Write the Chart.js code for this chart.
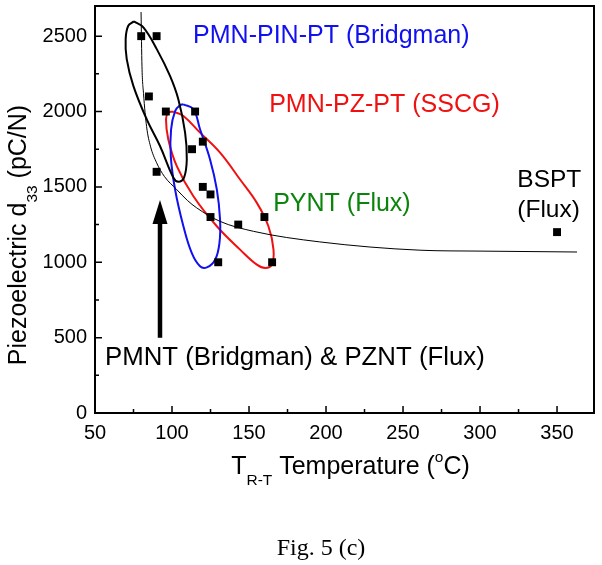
<!DOCTYPE html>
<html><head><meta charset="utf-8">
<script src="https://cdn.jsdelivr.net/npm/chart.js@4/dist/chart.umd.min.js"></script>
<style>html,body{margin:0;padding:0;background:#fff}#wrap{width:602px;height:565px;position:relative}</style>
</head><body><div id="wrap"><canvas id="c" width="602" height="565"></canvas></div>
<script>
// ---- tick values ----
const xTicks = [50, 100, 150, 200, 250, 300, 350];
const xMinor = [75, 125, 175, 225, 275, 325];
const yTicks = [0, 500, 1000, 1500, 2000, 2500];
const yMinor = [250, 750, 1250, 1750, 2250];

// ---- measured points (T_R-T, d33) ----
const ptX = [80, 90, 85, 96, 115, 113, 120, 90, 120, 125, 125, 143, 160, 130, 165, 350];
const ptY = [2500, 2500, 2100, 2000, 2000, 1750, 1800, 1600, 1500, 1450, 1300, 1250, 1300, 1000, 1000, 1200];

// ---- guide curve ----
const fitX = [79.9, 80.5, 81.5, 83.5, 86, 90, 95, 103, 110, 116, 131, 153, 196, 261, 300, 363];
const fitY = [2660, 2300, 2120, 1900, 1770, 1660, 1570, 1483, 1410, 1361, 1272, 1205, 1135, 1080, 1074, 1068];

// ---- group outlines ----
const blackX = [75.3, 81.4, 90.1, 98.7, 104.1, 108.5, 109.6, 107.8, 104.1, 100.9, 92.2, 83.6, 74.9, 70.6, 69.9, 71.6, 75.3];
const blackY = [2598, 2558, 2414, 2236, 2081, 1860, 1682, 1561, 1534, 1561, 1771, 1948, 2170, 2347, 2480, 2569, 2598];
const blueX = [107.4, 113.9, 118.2, 124.7, 129.1, 131.2, 130.8, 128.0, 122.6, 118.2, 112.8, 107.4, 102.0, 99.2, 99.4, 102.0, 105.2, 107.4];
const blueY = [2048, 2015, 1882, 1682, 1483, 1283, 1128, 1017, 966, 973, 1062, 1239, 1483, 1704, 1882, 2003, 2041, 2048];
const redX = [100.9, 107.4, 118.2, 131.2, 144.2, 155.1, 162.6, 165.9, 164.8, 160.5, 155.1, 144.2, 129.1, 113.9, 103.1, 97.6, 96.1, 97.6, 100.9];
const redY = [1999, 1970, 1860, 1727, 1549, 1394, 1239, 1084, 984, 962, 984, 1084, 1239, 1438, 1638, 1815, 1948, 1993, 1999];

// ---- annotation texts ----
const labelTexts = ["PMN-PIN-PT (Bridgman)", "PMN-PZ-PT (SSCG)", "PYNT (Flux)", "BSPT", "(Flux)", "PMNT (Bridgman) & PZNT (Flux)"];
const labelAnchorX = [113.7, 163.1, 165.7, 324.2, 324.2, 56.5];
const labelAnchorY = [2453, 1995, 1343, 1496, 1297, 319];
const arrowX = [92.2, 92.2];
const arrowY = [499, 1413];

const labelStyle = [
  {c: '#1010f0', s: 25}, {c: '#f01010', s: 25}, {c: '#0b840b', s: 25},
  {c: '#000', s: 24.5}, {c: '#000', s: 24.5}, {c: '#000', s: 25.8}
];

const zip = (xs, ys) => xs.map((v, i) => ({x: v, y: ys[i]}));
const FONT = '"Liberation Sans", Arial, sans-serif';

function drawRich(ctx, parts, x, y, size, align) {
  const w = parts.map(p => { ctx.font = ((p.sub || p.sup) ? size * 0.62 : size) + 'px ' + FONT; return ctx.measureText(p.t).width; });
  const total = w.reduce((a, b) => a + b, 0);
  let cx = align === 'center' ? x - total / 2 : x;
  parts.forEach((p, i) => {
    ctx.font = ((p.sub || p.sup) ? size * 0.62 : size) + 'px ' + FONT;
    const dy = p.sub ? size * 0.45 : p.sup ? -size * 0.5 : 0;
    ctx.fillText(p.t, cx, y + dy);
    cx += w[i];
  });
}

const deco = {
  id: 'deco',
  afterDraw(chart) {
    const {ctx, chartArea: a, scales: {x, y}} = chart;
    ctx.save();
    // inward ticks
    ctx.strokeStyle = '#000'; ctx.lineWidth = 1.5;
    ctx.beginPath();
    xTicks.forEach(v => { const p = x.getPixelForValue(v); ctx.moveTo(p, a.bottom); ctx.lineTo(p, a.bottom - 7); });
    xMinor.forEach(v => { const p = x.getPixelForValue(v); ctx.moveTo(p, a.bottom); ctx.lineTo(p, a.bottom - 4); });
    yTicks.forEach(v => { const p = y.getPixelForValue(v); ctx.moveTo(a.left, p); ctx.lineTo(a.left + 7, p); });
    yMinor.forEach(v => { const p = y.getPixelForValue(v); ctx.moveTo(a.left, p); ctx.lineTo(a.left + 4, p); });
    ctx.stroke();
    // frame
    ctx.lineWidth = 2;
    ctx.strokeRect(a.left, a.top, a.right - a.left, a.bottom - a.top);
    // arrow
    const ax = x.getPixelForValue(arrowX[0]);
    const y0 = y.getPixelForValue(arrowY[0]);
    const y1 = y.getPixelForValue(arrowY[1]);
    ctx.lineWidth = 4.5;
    ctx.beginPath(); ctx.moveTo(ax, y0); ctx.lineTo(ax, y1 + 20); ctx.stroke();
    ctx.fillStyle = '#000';
    ctx.beginPath(); ctx.moveTo(ax, y1); ctx.lineTo(ax - 7.5, y1 + 24); ctx.lineTo(ax + 7.5, y1 + 24); ctx.closePath(); ctx.fill();
    // labels
    ctx.textBaseline = 'alphabetic'; ctx.textAlign = 'left';
    labelTexts.forEach((t, i) => {
      ctx.fillStyle = labelStyle[i].c;
      ctx.font = labelStyle[i].s + 'px ' + FONT;
      ctx.fillText(t, x.getPixelForValue(labelAnchorX[i]), y.getPixelForValue(labelAnchorY[i]));
    });
    // axis titles
    ctx.fillStyle = '#000';
    drawRich(ctx, [{t: 'T'}, {t: 'R-T', sub: true}, {t: ' Temperature ('}, {t: 'o', sup: true}, {t: 'C)'}],
      (a.left + a.right) / 2 + 6, 474, 25, 'center');
    ctx.save();
    ctx.translate(26, 235);
    ctx.rotate(-Math.PI / 2);
    drawRich(ctx, [{t: 'Piezoelectric d'}, {t: '33', sub: true}, {t: ' (pC/N)'}], 0, 0, 25, 'center');
    ctx.restore();
    // caption
    ctx.font = '24px "Liberation Serif", "Times New Roman", serif';
    ctx.textAlign = 'center';
    ctx.fillText('Fig. 5 (c)', 321, 555);
    ctx.restore();
  }
};

const lineDs = (xs, ys, color, width, tension) => ({
  type: 'line', data: zip(xs, ys), borderColor: color, borderWidth: width,
  pointRadius: 0, fill: false, tension: tension, showLine: true, order: 2
});

new Chart(document.getElementById('c'), {
  type: 'scatter',
  data: {
    datasets: [
      {data: zip(ptX, ptY), pointStyle: 'rect', pointRadius: 5.6, backgroundColor: '#000', borderColor: '#000', borderWidth: 0, order: 1},
      Object.assign(lineDs(fitX, fitY, '#000', 1, 0), {cubicInterpolationMode: 'monotone'}),
      lineDs(blackX, blackY, '#000', 2, 0.4),
      lineDs(blueX, blueY, '#1010f0', 2, 0.4),
      lineDs(redX, redY, '#f01010', 2, 0.4)
    ]
  },
  options: {
    responsive: false, devicePixelRatio: 1, animation: false,
    layout: {padding: {left: 0, top: 6, right: 8, bottom: 112}},
    plugins: {legend: {display: false}, tooltip: {enabled: false}},
    scales: {
      x: {
        type: 'linear', min: 50, max: 374,
        grid: {display: false, drawTicks: false}, border: {display: false},
        ticks: {color: '#000', font: {family: FONT, size: 20}, padding: 8, maxRotation: 0, autoSkip: false, callback: v => String(v)},
        afterBuildTicks: s => { s.ticks = xTicks.map(v => ({value: v})); },
        afterFit: s => { s.height = 40; s.paddingLeft = 0; s.paddingRight = 0; }
      },
      y: {
        type: 'linear', min: 0, max: 2700,
        grid: {display: false, drawTicks: false}, border: {display: false},
        ticks: {color: '#000', font: {family: FONT, size: 20}, padding: 8, autoSkip: false, callback: v => String(v)},
        afterBuildTicks: s => { s.ticks = yTicks.map(v => ({value: v})); },
        afterFit: s => { s.width = 95; s.paddingTop = 0; s.paddingBottom = 0; }
      }
    }
  },
  plugins: [deco]
});
</script></body></html>
